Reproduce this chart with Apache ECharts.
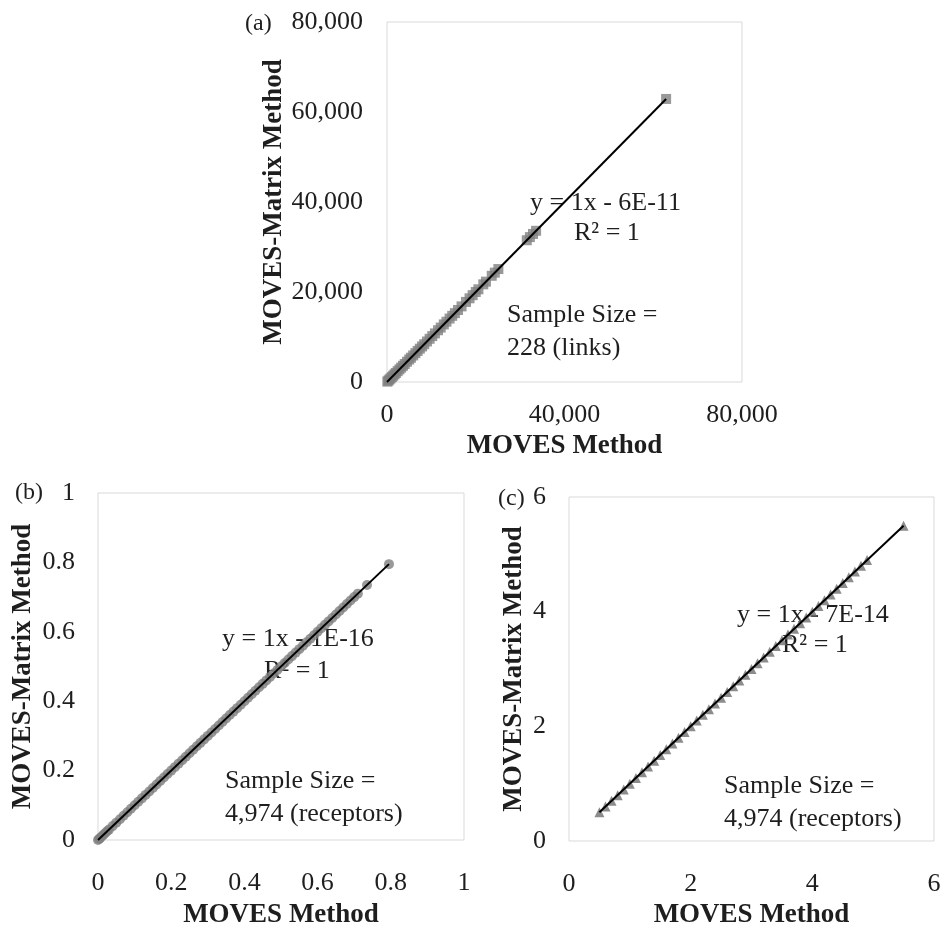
<!DOCTYPE html>
<html>
<head>
<meta charset="utf-8">
<script src="https://cdn.jsdelivr.net/npm/echarts@6/dist/echarts.min.js"></script>
<style>
  html, body { margin: 0; padding: 0; background: #fff; }
  #main { width: 945px; height: 930px; }
</style>
</head>
<body>
<div id="main"></div>
<script>
// (a) links: MOVES Method values (MOVES-Matrix equals them)
const linksMoves = [80, 300, 550, 800, 1100, 1400, 1700, 2000, 2400, 2800, 3200, 3600, 4000, 4500,
    5000, 5400, 5900, 6400, 6900, 7400, 7900, 8400, 9000, 9600, 10200, 10800, 11500, 12100,
    12800, 13400, 14100, 14700, 15300, 16000, 16800, 17800, 18600, 19300, 20000, 20600, 21700,
    22300, 23600, 24300, 25100, 31500, 32200, 32900, 33600, 62900];
const linksTrend = [0, 62900];

// (b) receptors
const recepMovesB = [0, 0.003, 0.006, 0.01, 0.015, 0.02, 0.025, 0.03, 0.04, 0.05, 0.06, 0.07, 0.08,
    0.09, 0.1, 0.11, 0.12, 0.13, 0.14, 0.15, 0.16, 0.17, 0.18, 0.19, 0.2, 0.21, 0.22, 0.23, 0.24,
    0.25, 0.26, 0.27, 0.28, 0.29, 0.3, 0.31, 0.32, 0.33, 0.34, 0.35, 0.36, 0.37, 0.38, 0.39, 0.4,
    0.41, 0.42, 0.43, 0.44, 0.45, 0.46, 0.47, 0.48, 0.49, 0.5, 0.51, 0.52, 0.53, 0.54, 0.55, 0.56,
    0.57, 0.58, 0.59, 0.6, 0.61, 0.62, 0.63, 0.64, 0.65, 0.66, 0.67, 0.68, 0.69, 0.7, 0.71, 0.735, 0.795];
const recepTrendB = [0, 0.795];

// (c) receptors
const recepMovesC = [0.5, 0.6, 0.7, 0.8, 0.9, 1.0, 1.1, 1.2, 1.3, 1.4, 1.5, 1.6, 1.7, 1.8, 1.9, 2.0,
    2.1, 2.2, 2.3, 2.4, 2.5, 2.6, 2.7, 2.8, 2.9, 3.0, 3.1, 3.2, 3.3, 3.4, 3.5, 3.6, 3.7, 3.8, 3.9,
    4.0, 4.1, 4.2, 4.3, 4.4, 4.5, 4.6, 4.7, 4.8, 4.9, 5.5];
const recepTrendC = [0.5, 5.5];

const serif = '"Liberation Serif", "Times New Roman", serif';
const ink = '#1e1e1e';
const pairs = function (arr) { return arr.map(function (v) { return [v, v]; }); };

function makeAxis(opt) {
    return {
        type: 'value',
        gridIndex: opt.grid,
        min: opt.min,
        max: opt.max,
        interval: opt.interval,
        name: opt.name,
        nameLocation: 'middle',
        nameGap: opt.nameGap,
        nameTextStyle: { fontFamily: serif, fontWeight: 'bold', fontSize: 27, color: ink },
        axisLine: { show: false },
        axisTick: { show: false },
        splitLine: { show: false },
        axisLabel: {
            fontFamily: serif, fontSize: 26, color: ink, margin: opt.margin,
            formatter: opt.formatter
        }
    };
}
const thousands = function (v) { return v.toLocaleString('en-US'); };

const myChart = echarts.init(document.getElementById('main'));
const option = {
    backgroundColor: '#fff',
    animation: false,
    grid: [
        { left: 387, top: 22, width: 355, height: 360, show: true, borderColor: '#d9d9d9', borderWidth: 1, backgroundColor: '#fff' },
        { left: 98, top: 493, width: 366, height: 365, show: true, borderColor: '#d9d9d9', borderWidth: 1, backgroundColor: '#fff' },
        { left: 569, top: 497, width: 365, height: 362, show: true, borderColor: '#d9d9d9', borderWidth: 1, backgroundColor: '#fff' }
    ],
    xAxis: [
        makeAxis({ grid: 0, min: 0, max: 80000, interval: 40000, name: 'MOVES Method', nameGap: 51, margin: 20, formatter: thousands }),
        makeAxis({ grid: 1, min: 0, max: 1, interval: 0.2, name: 'MOVES Method', nameGap: 62, margin: 30 }),
        makeAxis({ grid: 2, min: 0, max: 6, interval: 2, name: 'MOVES Method', nameGap: 61, margin: 30 })
    ],
    yAxis: [
        makeAxis({ grid: 0, min: 0, max: 80000, interval: 20000, name: 'MOVES-Matrix Method', nameGap: 99, margin: 24, formatter: thousands }),
        makeAxis({ grid: 1, min: 0, max: 1, interval: 0.2, name: 'MOVES-Matrix Method', nameGap: 61, margin: 23 }),
        makeAxis({ grid: 2, min: 0, max: 6, interval: 2, name: 'MOVES-Matrix Method', nameGap: 41, margin: 23 })
    ],
    series: [
        { type: 'scatter', xAxisIndex: 0, yAxisIndex: 0, symbol: 'rect', symbolSize: 10, itemStyle: { color: '#7f7f7f' }, data: pairs(linksMoves) },
        { type: 'line', xAxisIndex: 0, yAxisIndex: 0, symbol: 'none', lineStyle: { color: '#000', width: 2 }, data: pairs(linksTrend) },
        { type: 'scatter', xAxisIndex: 1, yAxisIndex: 1, symbol: 'circle', symbolSize: 10, itemStyle: { color: '#7f7f7f' }, data: pairs(recepMovesB) },
        { type: 'line', xAxisIndex: 1, yAxisIndex: 1, symbol: 'none', lineStyle: { color: '#000', width: 2 }, data: pairs(recepTrendB) },
        { type: 'scatter', xAxisIndex: 2, yAxisIndex: 2, symbol: 'triangle', symbolSize: 10, itemStyle: { color: '#6f6f6f' }, data: pairs(recepMovesC) },
        { type: 'line', xAxisIndex: 2, yAxisIndex: 2, symbol: 'none', lineStyle: { color: '#000', width: 2 }, data: pairs(recepTrendC) }
    ],
    graphic: [
        { type: 'text', left: 245, top: 12, style: { text: '(a)', font: '24px ' + serif, fill: ink } },
        { type: 'text', left: 15, top: 481, style: { text: '(b)', font: '24px ' + serif, fill: ink } },
        { type: 'text', left: 498, top: 487, style: { text: '(c)', font: '24px ' + serif, fill: ink } },
        // (a) annotations
        { type: 'text', left: 530, top: 190, style: { text: 'y = 1x - 6E-11', font: '26px ' + serif, fill: ink } },
        { type: 'text', left: 574, top: 220, style: { text: 'R² = 1', font: '26px ' + serif, fill: ink } },
        { type: 'text', left: 507, top: 299, style: { text: 'Sample Size =\n228 (links)', font: '26px ' + serif, fill: ink, lineHeight: 33 } },
        // (b) annotations
        { type: 'text', left: 222, top: 626, style: { text: 'y = 1x - 1E-16', font: '26px ' + serif, fill: ink } },
        { type: 'text', left: 264, top: 658, style: { text: 'R² = 1', font: '26px ' + serif, fill: ink } },
        { type: 'text', left: 225, top: 765, style: { text: 'Sample Size =\n4,974 (receptors)', font: '26px ' + serif, fill: ink, lineHeight: 33 } },
        // (c) annotations
        { type: 'text', left: 737, top: 602, style: { text: 'y = 1x - 7E-14', font: '26px ' + serif, fill: ink } },
        { type: 'text', left: 782, top: 632, style: { text: 'R² = 1', font: '26px ' + serif, fill: ink } },
        { type: 'text', left: 724, top: 770, style: { text: 'Sample Size =\n4,974 (receptors)', font: '26px ' + serif, fill: ink, lineHeight: 33 } }
    ]
};
myChart.setOption(option);
window.addEventListener('resize', function () {
    myChart.resize();
});
</script>
</body>
</html>
